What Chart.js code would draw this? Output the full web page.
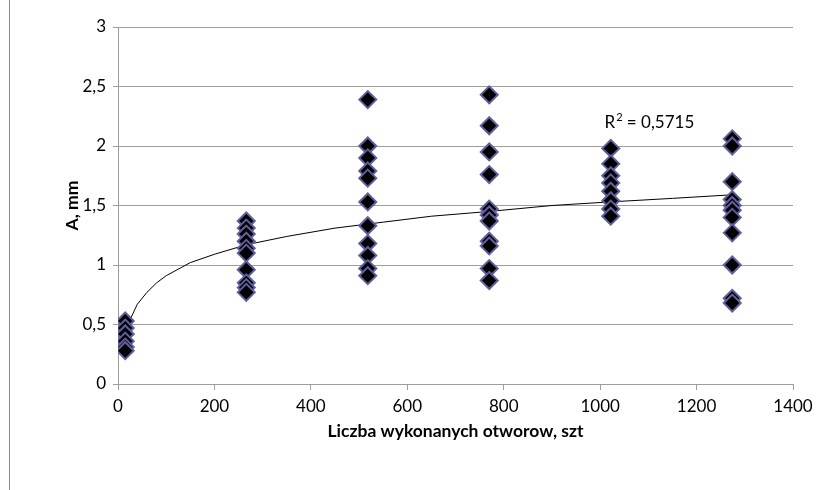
<!DOCTYPE html>
<html>
<head>
<meta charset="utf-8">
<script src="https://cdn.jsdelivr.net/npm/chart.js@4/dist/chart.umd.min.js"></script>
<style>
  html, body { margin: 0; padding: 0; background: #fff; }
  #wrap { position: relative; width: 826px; height: 490px; }
  #frame { position: absolute; left: 9px; top: 0; bottom: 0; border-left: 1px solid #8a8a8a; }
  canvas { position: absolute; left: 0; top: 0; }
</style>
</head>
<body>
<div id="wrap">
  <div id="frame"></div>
  <canvas id="wearChart" width="826" height="490"></canvas>
</div>
<script>
// number of drilled holes for each measurement group
const holeCounts = [15, 266, 518, 770, 1022, 1274];

// wear A, mm measured at each group
const wear1 = [0.53, 0.47, 0.42, 0.36, 0.31, 0.28];
const wear2 = [1.37, 1.31, 1.26, 1.20, 1.14, 1.10, 0.96, 0.85, 0.81, 0.77];
const wear3 = [2.39, 2.00, 1.90, 1.79, 1.73, 1.53, 1.33, 1.18, 1.08, 0.97, 0.91];
const wear4 = [2.43, 2.17, 1.95, 1.76, 1.47, 1.42, 1.37, 1.20, 1.16, 0.97, 0.87];
const wear5 = [1.98, 1.85, 1.75, 1.69, 1.62, 1.54, 1.47, 1.41];
const wear6 = [2.06, 2.00, 1.70, 1.55, 1.50, 1.46, 1.40, 1.27, 1.00, 0.72, 0.68];

// logarithmic trend line
const trendX = [15, 25, 40, 60, 80, 100, 150, 200, 266, 350, 450, 550, 650, 770, 900, 1020, 1150, 1274];
const trendY = [0.40, 0.54, 0.67, 0.77, 0.85, 0.91, 1.02, 1.09, 1.17, 1.24, 1.31, 1.36, 1.41, 1.45, 1.50, 1.53, 1.56, 1.59];

const r2Value = '0,5715';
const r2At = [1009, 2.15];

const xTitle = 'Liczba wykonanych otworow, szt';
const yTitle = 'A, mm';

const groups = [wear1, wear2, wear3, wear4, wear5, wear6];
const points = [];
groups.forEach((g, i) => g.forEach(v => points.push({x: holeCounts[i], y: v})));
const trendPoints = trendX.map((x, i) => ({x: x, y: trendY[i]}));

const FONT = 'Lato, "Liberation Sans", sans-serif';
const GRID = '#9d9d9d';

const r2Label = {
  id: 'r2Label',
  afterDatasetsDraw(chart) {
    const {ctx, scales: {x, y}} = chart;
    const px = x.getPixelForValue(r2At[0]);
    const py = y.getPixelForValue(r2At[1]);
    ctx.save();
    ctx.fillStyle = '#000';
    ctx.textBaseline = 'alphabetic';
    ctx.font = '17px ' + FONT;
    ctx.fillText('R', px, py);
    let w = ctx.measureText('R').width;
    ctx.font = '11px ' + FONT;
    ctx.fillText('2', px + w + 1, py - 7);
    w += ctx.measureText('2').width + 1;
    ctx.font = '17px ' + FONT;
    ctx.fillText(' = ' + r2Value, px + w, py);
    ctx.restore();
  }
};

new Chart(document.getElementById('wearChart').getContext('2d'), {
  type: 'scatter',
  data: {
    datasets: [
      {
        label: 'trend',
        type: 'line',
        data: trendPoints,
        borderColor: '#000',
        borderWidth: 1,
        pointRadius: 0,
        fill: false,
        tension: 0,
        order: 2
      },
      {
        label: 'A',
        data: points,
        pointStyle: 'rectRot',
        pointRadius: 8.5,
        pointBackgroundColor: '#000',
        pointBorderColor: '#5f5f9e',
        pointBorderWidth: 2,
        order: 1
      }
    ]
  },
  options: {
    responsive: false,
    animation: false,
    layout: { padding: { left: 62, top: 27, right: 33, bottom: 44 } },
    plugins: {
      legend: { display: false },
      tooltip: { enabled: false },
      title: { display: false }
    },
    scales: {
      x: {
        type: 'linear',
        min: 0, max: 1400,
        afterFit: s => { s.height = 62; },
        grid: { drawOnChartArea: false, drawTicks: true, tickLength: 6, color: GRID },
        border: { display: true, color: GRID },
        ticks: {
          stepSize: 200, color: '#000', font: { family: FONT, size: 17 }, padding: 6, maxRotation: 0,
          callback: v => String(v)
        },
        title: { display: true, text: xTitle, color: '#000', font: { family: FONT, size: 17.5, weight: 'bold' }, padding: { top: 4, bottom: 4 } }
      },
      y: {
        min: 0, max: 3,
        afterFit: s => { s.width = 56; },
        grid: { color: GRID, drawTicks: true, tickLength: 5 },
        border: { display: true, color: GRID },
        ticks: {
          stepSize: 0.5, color: '#000', font: { family: FONT, size: 17 }, padding: 7,
          callback: v => String(v).replace('.', ',')
        },
        title: { display: true, text: yTitle, color: '#000', font: { family: FONT, size: 17.5, weight: 'bold' }, padding: { top: 0, bottom: 2 } }
      }
    }
  },
  plugins: [r2Label]
});
</script>
</body>
</html>
